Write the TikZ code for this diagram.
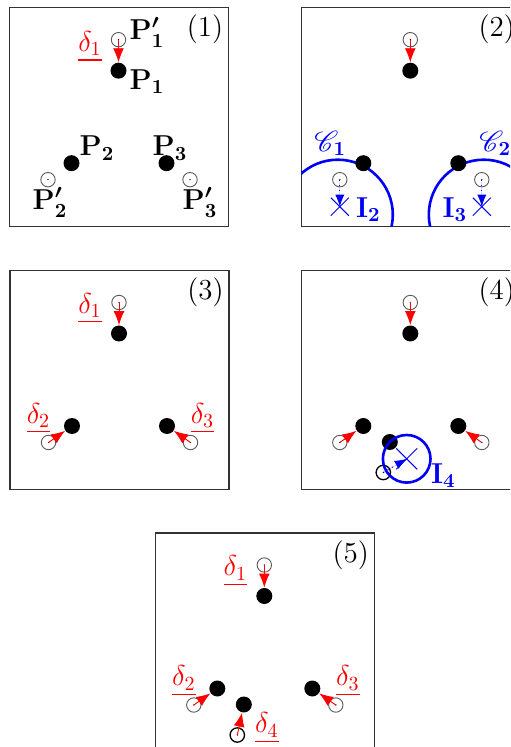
\documentclass[tikz,border=0pt]{standalone}
\usepackage{amsmath,amssymb}
\usepackage{mathrsfs}
\usetikzlibrary{arrows.meta,shapes.misc}
\definecolor{PtRed}{HTML}{FF0000}
\definecolor{PtBlue}{HTML}{0000F5}
\tikzset{
  panel/.style={draw=black!80, line width=0.65pt},
  fdot/.style={circle, fill=black, inner sep=0pt, minimum size=8pt},
  hdot/.style={circle, draw=black!65, line width=0.45pt, inner sep=0pt, minimum size=7.2pt,
    path picture={\fill[black] (path picture bounding box.center) circle (0.35pt);}},
  kdot/.style={hdot, draw=black, line width=0.65pt},
  xmark/.style={cross out, draw=PtBlue, line width=0.5pt, inner sep=0pt, minimum size=8.5pt},
  redarrow/.style={-{Latex[length=7pt,width=5.4pt]}, draw=PtRed, fill=PtRed, line width=0.45pt},
  bluearrow/.style={-{Latex[length=6pt,width=4.6pt]}, draw=PtBlue, fill=PtBlue, dotted, line width=0.5pt},
  bluering/.style={draw=PtBlue, line width=1.3pt},
  numlbl/.style={inner sep=0pt},
  dlbl/.style={text=PtRed, inner sep=0pt},
  plbl/.style={inner sep=0pt, execute at begin node=\boldmath},
  ilbl/.style={text=PtBlue, inner sep=0pt, execute at begin node=\boldmath}
}
\begin{document}
\begin{tikzpicture}[x=0.5pt, y=-0.5pt, font=\fontsize{14.5}{17}\selectfont]
  \clip (0,0) rectangle (510,747);
  % panel (1)
  \begin{scope}[shift={(9.5,7.7)}]
    \draw[panel] (0,0) rectangle (219,219);
    \node[numlbl] at (195.5,22) {(1)};
    \node[hdot] (a1p) at (109,32) {};
    \node[fdot] (a1) at (109,63) {};
    \node[fdot] (a2) at (62,155.5) {};
    \node[fdot] (a3) at (157,155.5) {};
    \node[hdot] (a2p) at (38.5,172) {};
    \node[hdot] (a3p) at (180.5,172) {};
    \draw[redarrow] (a1p.center) -- (a1);
    \node[dlbl] at (80.5,39) {$\underline{\delta_1}$};
    \node[plbl] at (137.5,25) {$\mathbf{P}'_1$};
    \node[plbl] at (137.5,74) {$\mathbf{P}_1$};
    \node[plbl] at (87.5,140.5) {$\mathbf{P}_2$};
    \node[plbl] at (160.5,140.5) {$\mathbf{P}_3$};
    \node[plbl] at (40.5,195) {$\mathbf{P}'_2$};
    \node[plbl] at (190.5,195) {$\mathbf{P}'_3$};
  \end{scope}
  % panel (2)
  \begin{scope}[shift={(301.3,7.7)}]
    \draw[panel] (0,0) rectangle (219,219);
    \node[numlbl] at (195.5,22) {(2)};
    \begin{scope}
      \clip (0,0) rectangle (219,219);
      \coordinate (bC1) at (36.5,207);
      \coordinate (bC2) at (182.5,207);
      \draw[bluering] (bC1) circle[radius=27.5pt];
      \draw[bluering] (bC2) circle[radius=27.5pt];
    \end{scope}
    \node[hdot] (b1p) at (109,32) {};
    \node[fdot] (b1) at (109,63) {};
    \node[fdot] (b2) at (62,155.5) {};
    \node[fdot] (b3) at (157,155.5) {};
    \node[hdot] (b2p) at (38.5,172) {};
    \node[hdot] (b3p) at (180.5,172) {};
    \node[xmark] (bI2) at (38.5,199) {};
    \node[xmark] (bI3) at (180.5,199) {};
    \draw[redarrow] (b1p.center) -- (b1);
    \draw[bluearrow] (b2p.center) -- (bI2.center);
    \draw[bluearrow] (b3p.center) -- (bI3.center);
    \node[ilbl] at (29,136) {$\mathscr{C}_1$};
    \node[ilbl] at (194,136) {$\mathscr{C}_2$};
    \node[ilbl] at (67,202) {$\mathbf{I}_2$};
    \node[ilbl] at (153.5,202) {$\mathbf{I}_3$};
  \end{scope}
  % panel (3)
  \begin{scope}[shift={(10,270.5)}]
    \draw[panel] (0,0) rectangle (219,219);
    \node[numlbl] at (195.5,22) {(3)};
    \node[hdot] (c1p) at (109,32) {};
    \node[fdot] (c1) at (109,63) {};
    \node[fdot] (c2) at (62,155.5) {};
    \node[fdot] (c3) at (157,155.5) {};
    \node[hdot] (c2p) at (38.5,172) {};
    \node[hdot] (c3p) at (180.5,172) {};
    \draw[redarrow] (c1p.center) -- (c1);
    \draw[redarrow] (c2p.center) -- (c2);
    \draw[redarrow] (c3p.center) -- (c3);
    \node[dlbl] at (80,38) {$\underline{\delta_1}$};
    \node[dlbl] at (28.5,148) {$\underline{\delta_2}$};
    \node[dlbl] at (192.5,148) {$\underline{\delta_3}$};
  \end{scope}
  % panel (4)
  \begin{scope}[shift={(301.3,270.5)}]
    \draw[panel] (0,0) rectangle (219,219);
    \node[numlbl] at (195.5,22) {(4)};
    \node[hdot] (d1p) at (109,32) {};
    \node[fdot] (d1) at (109,63) {};
    \node[fdot] (d2) at (62,155.5) {};
    \node[fdot] (d3) at (157,155.5) {};
    \node[hdot] (d2p) at (38.5,172) {};
    \node[hdot] (d3p) at (180.5,172) {};
    \node[fdot] (d4) at (88.5,171.5) {};
    \node[kdot] (d4p) at (82,202) {};
    \node[xmark, minimum size=10pt] (dI4) at (105.4,188.3) {};
    \draw[bluering] (dI4.center) circle[radius=11.9pt];
    \draw[redarrow] (d1p.center) -- (d1);
    \draw[redarrow] (d2p.center) -- (d2);
    \draw[redarrow] (d3p.center) -- (d3);
    \draw[bluearrow] (d4p.center) -- (dI4.center);
    \node[ilbl] at (142,205) {$\mathbf{I}_4$};
  \end{scope}
  % panel (5)
  \begin{scope}[shift={(155.3,533)}]
    \draw[panel] (0,0) rectangle (219,219);
    \node[numlbl] at (195.5,22) {(5)};
    \node[hdot] (e1p) at (109,32) {};
    \node[fdot] (e1) at (109,63) {};
    \node[fdot] (e2) at (62,155.5) {};
    \node[fdot] (e3) at (157,155.5) {};
    \node[hdot] (e2p) at (38.5,172) {};
    \node[hdot] (e3p) at (180.5,172) {};
    \node[fdot] (e4) at (88.5,171.5) {};
    \node[kdot] (e4p) at (82,202) {};
    \draw[redarrow] (e1p.center) -- (e1);
    \draw[redarrow] (e2p.center) -- (e2);
    \draw[redarrow] (e3p.center) -- (e3);
    \draw[redarrow] (e4p.center) -- (e4);
    \node[dlbl] at (80,38) {$\underline{\delta_1}$};
    \node[dlbl] at (28.5,148) {$\underline{\delta_2}$};
    \node[dlbl] at (192.5,148) {$\underline{\delta_3}$};
    \node[dlbl] at (111.5,195) {$\underline{\delta_4}$};
  \end{scope}
\end{tikzpicture}
\end{document}
